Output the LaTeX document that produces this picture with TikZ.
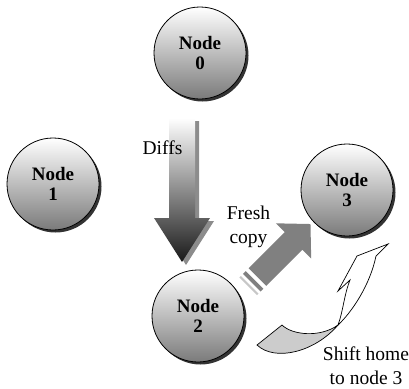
\documentclass[tikz,border=0pt]{standalone}
\usepackage{fontspec}
\setmainfont{Liberation Serif}
\usetikzlibrary{shadows}
\begin{document}
\begin{tikzpicture}[x=1pt,y=1pt,
  nodecircle/.style={circle, draw=black, line width=0.8pt, minimum size=92pt, inner sep=0pt, align=center,
    top color=white, bottom color=black!52,
    drop shadow={shadow xshift=2.5pt, shadow yshift=-2.5pt, fill=black, opacity=0.8},
    font=\bfseries\fontsize{19}{20.5}\selectfont},
  lbl/.style={align=center, font=\fontsize{19.5}{24}\selectfont, inner sep=0pt},
  arrowgray/.style={fill=black!50},
  stripegray/.style={fill=black!22},
  ribbon/.style={draw=black, line width=0.7pt, line join=miter}]
\useasboundingbox (0,0) rectangle (409,-388);

% Diffs arrow (shadow then shaded body)
\fill[black!45] ([shift={(4,-3)}]169,-118) -- ([shift={(4,-3)}]195,-118) -- ([shift={(4,-3)}]195,-218) -- ([shift={(4,-3)}]210,-218)
  -- ([shift={(4,-3)}]182,-262) -- ([shift={(4,-3)}]154,-218) -- ([shift={(4,-3)}]169,-218) -- cycle;
\shade[top color=white, bottom color=black!90] (169,-118) -- (195,-118) -- (195,-218) -- (210,-218)
  -- (182,-262) -- (154,-218) -- (169,-218) -- cycle;
\node[lbl] (diffs) at (162.5,-147.5) {Diffs};

% Fresh copy striped arrow
\begin{scope}[shift={(293.5,-241)}, rotate=45]
  \fill[arrowgray] (-51,-12.5) -- (0,-12.5) -- (0,-25) -- (24,0) -- (0,25) -- (0,12.5) -- (-51,12.5) -- cycle;
  \fill[arrowgray] (-59,-12.5) rectangle (-55,12.5);
  \fill[stripegray] (-64,-12.5) rectangle (-62,12.5);
\end{scope}
\node[lbl] (fresh) at (248.5,-226.5) {Fresh\\copy};

% Shift home curved arrow
\filldraw[ribbon, fill=black!20] (257,-345) -- (282,-325) .. controls (292,-335) and (320,-338) .. (338,-325)
  .. controls (315,-352) and (275,-362) .. (257,-345) -- cycle;
\filldraw[ribbon, fill=white] (338,-325) .. controls (343,-312) and (344,-295) .. (350,-280) -- (338,-291)
  -- (357,-256) -- (388,-244) -- (376,-256) .. controls (370,-285) and (352,-312) .. (338,-325) -- cycle;
\node[lbl] (shift) at (366,-365.5) {Shift home\\to node 3};

% Nodes
\node[nodecircle] (n0) at (200,-53) {Node\\0};
\node[nodecircle] (n1) at (53,-184) {Node\\1};
\node[nodecircle] (n2) at (198,-316) {Node\\2};
\node[nodecircle] (n3) at (347,-190) {Node\\3};
\end{tikzpicture}
\end{document}
